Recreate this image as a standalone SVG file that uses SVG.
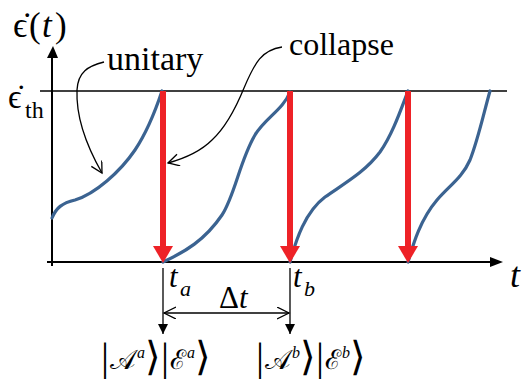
<svg xmlns="http://www.w3.org/2000/svg" width="522" height="379" viewBox="0 0 522 379">
<defs>
<style>
.ax{stroke:#000;stroke-width:2;fill:none}
.thin{stroke:#000;stroke-width:1.3;fill:none}
.blue{stroke:#3B6391;stroke-width:3.2;fill:none;stroke-linecap:round}
.red{stroke:#EE2227;stroke-width:6;fill:none}
.redh{fill:#EE2227}
.it{font-style:italic}
</style>
<marker id="open" markerWidth="14" markerHeight="14" refX="12" refY="6" orient="auto" markerUnits="userSpaceOnUse">
<path d="M1,0 L12,6 L1,12" fill="none" stroke="#000" stroke-width="1.3"/>
</marker>
<marker id="openS" markerWidth="14" markerHeight="14" refX="12" refY="6" orient="auto-start-reverse" markerUnits="userSpaceOnUse">
<path d="M0,0 L12,6 L0,12" fill="none" stroke="#000" stroke-width="1.3"/>
</marker>
<marker id="fill" markerWidth="14" markerHeight="14" refX="10" refY="5" orient="auto" markerUnits="userSpaceOnUse">
<path d="M0,0 L10,5 L0,10 Z" fill="#000"/>
</marker>
</defs>

<g id="axes">
<line class="ax" x1="52" y1="266" x2="52" y2="52"/>
<path d="M47,58 L53,46 L58,58 Z" fill="#000"/>
<line class="ax" x1="47" y1="262" x2="492" y2="262"/>
<path d="M490,257 L503,262 L490,267 Z" fill="#000"/>
<line x1="40" y1="91" x2="507" y2="91" stroke="#000" stroke-width="1.5"/>
</g>

<g id="curves">
<path class="blue" d="M52,218 C56,208 62,203 75,200 C95,194 120,172 135,150 C145,135 155,112 162,91"/>
<path class="blue" d="M163,262 C185,252 205,240 222,215 C235,195 240,160 255,135 C265,118 283,110 290,92"/>
<path class="blue" d="M290,262 C296,240 305,212 325,197 C345,183 365,172 380,152 C392,135 400,112 408,91"/>
<path class="blue" d="M408,262 C413,245 420,220 437,200 C450,185 462,178 470,160 C478,140 484,112 490,91"/>
</g>

<g id="collapses">
<line class="red" x1="163" y1="91" x2="163" y2="247"/>
<path class="redh" d="M153,246 L173,246 L163,263 Z"/>
<line class="red" x1="290" y1="91" x2="290" y2="247"/>
<path class="redh" d="M280,246 L300,246 L290,263 Z"/>
<line class="red" x1="408" y1="91" x2="408" y2="247"/>
<path class="redh" d="M398,246 L418,246 L408,263 Z"/>
</g>

<g id="connectors">
<path class="thin" d="M104,62 C88,66 78,72 77,90 C76,115 86,145 102,173" marker-end="url(#open)"/>
<path class="thin" d="M282,47 C262,50 255,62 244,88 C235,110 225,128 212,140 C200,152 186,158 168,163" marker-end="url(#open)"/>
<line class="thin" x1="163" y1="268" x2="163" y2="334" marker-end="url(#fill)"/>
<line class="thin" x1="290" y1="268" x2="290" y2="334" marker-end="url(#fill)"/>
<line class="thin" x1="164" y1="313" x2="289" y2="313" marker-start="url(#openS)" marker-end="url(#openS)"/>
</g>

<g id="labels" font-family="Liberation Serif, serif" fill="#000">
<text font-size="35" x="13" y="37">ϵ̇<tspan x="29">(</tspan><tspan class="it" x="42">t</tspan><tspan x="55">)</tspan></text>
<text font-size="33" x="8" y="108">ϵ̇<tspan font-size="24" x="25" dy="10">th</tspan></text>
<text font-size="34" x="107" y="70">unitary</text>
<text font-size="32" x="289" y="55">collapse</text>
<text class="it" font-size="36" x="510" y="287">t</text>
<text class="it" font-size="31" x="169" y="287">t<tspan font-size="22" x="180" dy="9">a</tspan></text>
<text class="it" font-size="31" x="293" y="287">t<tspan font-size="22" x="304" dy="9">b</tspan></text>
<text font-size="31" x="219" y="308">Δ<tspan class="it">t</tspan></text>
</g>

<g id="state-a" font-family="Liberation Serif, serif" fill="#000">
<text font-size="27" x="101" y="369"><tspan font-size="40" dy="1">|</tspan><tspan dx="1" dy="-1">𝒜</tspan><tspan font-size="16" class="it" dx="1" dy="-11">a</tspan><tspan font-size="40" dy="12">⟩|</tspan><tspan dx="1" dy="-1">ℰ</tspan><tspan font-size="16" class="it" dx="1" dy="-11">a</tspan><tspan font-size="40" dy="12">⟩</tspan></text>
</g>
<g id="state-b" font-family="Liberation Serif, serif" fill="#000">
<text font-size="27" x="256" y="369"><tspan font-size="40" dy="1">|</tspan><tspan dx="1" dy="-1">𝒜</tspan><tspan font-size="16" class="it" dx="1" dy="-11">b</tspan><tspan font-size="40" dy="12">⟩|</tspan><tspan dx="1" dy="-1">ℰ</tspan><tspan font-size="16" class="it" dx="1" dy="-11">b</tspan><tspan font-size="40" dy="12">⟩</tspan></text>
</g>
</svg>
